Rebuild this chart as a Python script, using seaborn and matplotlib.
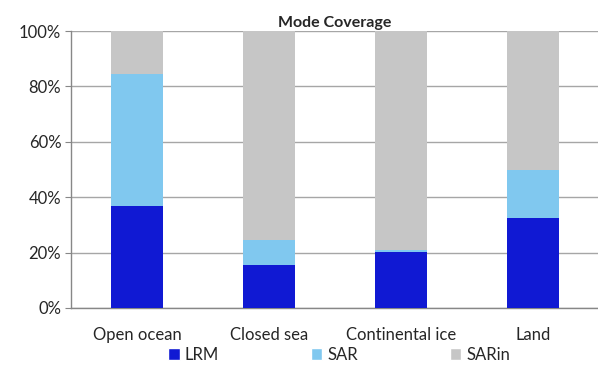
import numpy as np
import pandas as pd
import seaborn as sns
import matplotlib.pyplot as plt
from matplotlib.patches import Patch

categories = ["Open ocean", "Closed sea", "Continental ice", "Land"]
lrm = [36.8, 15.5, 20.3, 32.4]
sar = [47.7, 9.0, 0.6, 17.4]
sarin = [15.5, 75.5, 79.1, 50.2]

colors = {"LRM": "#1019D3", "SAR": "#80C8EF", "SARin": "#C6C6C6"}

df = pd.DataFrame({"category": categories, "LRM": lrm, "SAR": sar, "SARin": sarin})
df["top_sar"] = df["LRM"] + df["SAR"]
df["top_sarin"] = df["top_sar"] + df["SARin"]

sns.set_style("white")
plt.rcParams["font.family"] = ["Lato", "DejaVu Sans"]

fig = plt.figure(figsize=(5.98, 3.71), dpi=100)
ax = fig.add_axes([71 / 598, 1 - 308 / 371, 528 / 598, 277 / 371])

for col, name in [("top_sarin", "SARin"), ("top_sar", "SAR"), ("LRM", "LRM")]:
    sns.barplot(data=df, x="category", y=col, color=colors[name], width=0.4,
                saturation=1, linewidth=0, ax=ax, zorder=3)

ax.set_ylim(0, 100)
ax.set_xlim(-0.5, 3.5)
ax.set_yticks(np.arange(0, 101, 20))
ax.set_yticklabels([f"{v}%" for v in range(0, 101, 20)], fontsize=12)
ax.yaxis.grid(True, color="#A6A6A6", linewidth=1, zorder=0)
ax.set_axisbelow(True)
ax.set_xlabel("")
ax.set_ylabel("")
ax.set_xticks(range(4))
ax.set_xticklabels(categories, fontsize=12)
ax.tick_params(axis="x", length=0, pad=14)
ax.set_xticks(np.arange(-0.5, 3.6, 1), minor=True)
ax.tick_params(axis="x", which="minor", length=5, color="#878787", direction="out")
ax.tick_params(axis="y", length=4, color="#878787", direction="out", left=True, pad=3)
for s in ["top", "right"]:
    ax.spines[s].set_visible(False)
for s in ["left", "bottom"]:
    ax.spines[s].set_color("#878787")
    ax.spines[s].set_linewidth(1)

ax.set_title("Mode Coverage", fontsize=11.5, fontweight="bold", pad=3)

handles = [Patch(facecolor=colors[n], label=n) for n in ["LRM", "SAR", "SARin"]]
fig.legend(handles=handles, loc="center", bbox_to_anchor=(339 / 598, 1 - 355 / 371),
           ncol=3, frameon=False, fontsize=12, handlelength=0.7, handleheight=0.7,
           handletextpad=0.3, columnspacing=5.5)

fig.savefig("out.png", dpi=100)
